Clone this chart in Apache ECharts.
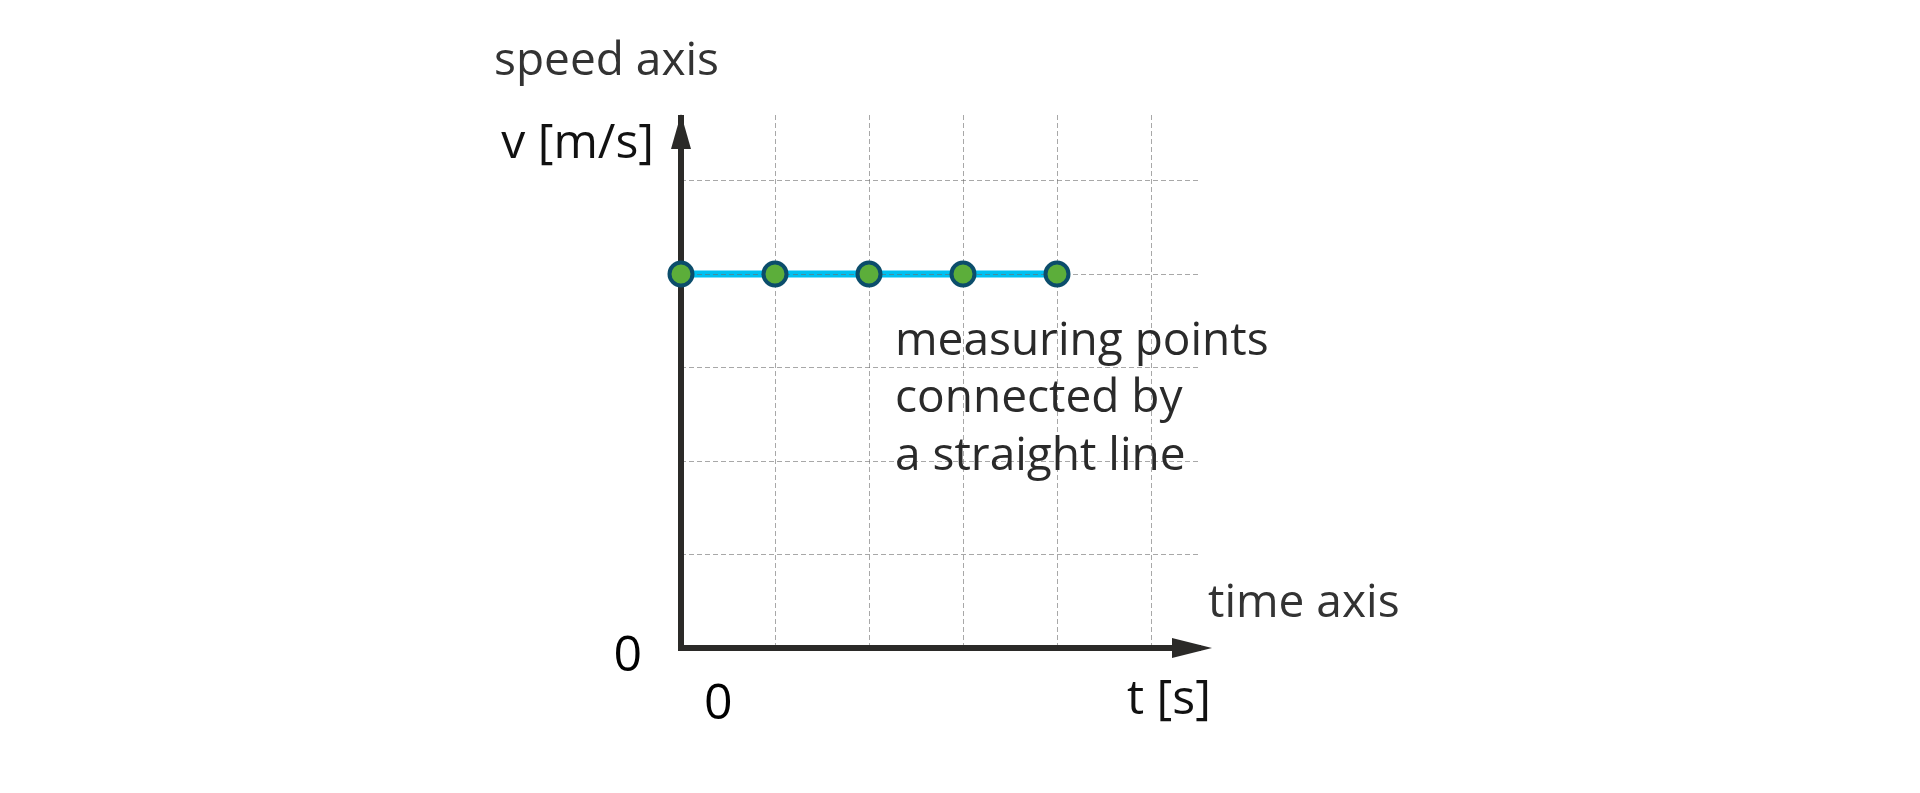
<!DOCTYPE html>
<html>
<head>
<meta charset="utf-8">
<script src="https://cdn.jsdelivr.net/npm/echarts@6/dist/echarts.min.js"></script>
<style>
html,body{margin:0;padding:0;background:#fff;}
#chart{width:1920px;height:793px;}
</style>
</head>
<body>
<div id="chart"></div>
<script>
// Data
const times = [0, 1, 2, 3, 4];
const speeds = [4, 4, 4, 4, 4];
const xTickValues = [0];
const xTickLabels = ['0'];
const yTickValues = [0];
const yTickLabels = ['0'];
const xAxisTitle = 't [s]';
const yAxisTitle = 'v [m/s]';
const xAxisCaption = 'time axis';
const yAxisCaption = 'speed axis';
const annotation = ['measuring points', 'connected by', 'a straight line'];

const FONT = '"Open Sans", "Noto Sans", sans-serif';
const points = times.map((t, i) => [t, speeds[i]]);

function tickFormatter(values, labels) {
  return function (v) {
    const idx = values.indexOf(v);
    return idx >= 0 ? labels[idx] : '';
  };
}

const chart = echarts.init(document.getElementById('chart'), null, {renderer: 'canvas'});
chart.setOption({
  backgroundColor: '#ffffff',
  animation: false,
  grid: {left: 681, right: 722, top: 115, bottom: 145, containLabel: false},
  xAxis: {
    type: 'value', min: 0, max: 5.5, interval: 1,
    axisLine: {
      show: true, onZero: false,
      symbol: ['none', 'triangle'], symbolSize: [20, 40], symbolOffset: [0, -6],
      lineStyle: {color: '#2b2a28', width: 6, cap: 'square'}
    },
    axisTick: {show: false},
    splitLine: {show: true, showMinLine: false, showMaxLine: false,
      lineStyle: {color: 'rgba(110,110,110,0.6)', width: 1, type: [5, 3]}},
    axisLabel: {
      show: true, formatter: tickFormatter(xTickValues, xTickLabels),
      fontFamily: FONT, fontSize: 50, color: '#000',
      align: 'left', padding: [0, 0, 0, 23], margin: 32,
      showMaxLabel: false
    }
  },
  yAxis: {
    type: 'value', min: 0, max: 5.7, interval: 1,
    axisLine: {
      show: true, onZero: false,
      symbol: ['none', 'triangle'], symbolSize: [20, 35], symbolOffset: [0, -16.5],
      lineStyle: {color: '#2b2a28', width: 6, cap: 'butt'}
    },
    axisTick: {show: false},
    splitLine: {show: true, showMinLine: false, showMaxLine: false,
      lineStyle: {color: 'rgba(110,110,110,0.6)', width: 1, type: [5, 3]}},
    axisLabel: {
      show: true, formatter: tickFormatter(yTickValues, yTickLabels),
      fontFamily: FONT, fontSize: 50, color: '#000',
      margin: 39, verticalAlign: 'top', lineHeight: 18,
      showMaxLabel: false
    }
  },
  series: [
    {
      type: 'line', data: points, z: -1,
      showSymbol: false, symbol: 'none',
      lineStyle: {color: '#00c0f0', width: 7}
    },
    {
      type: 'scatter', data: points, z: 5,
      symbol: 'circle', symbolSize: 23,
      itemStyle: {color: '#5cae3a', borderColor: '#0b4d6b', borderWidth: 4, opacity: 1}
    }
  ],
  graphic: [
    {type: 'text', z: 10, style: {x: 494, y: 62, text: yAxisCaption, font: '46px ' + FONT, fill: '#333', textAlign: 'left', textVerticalAlign: 'middle'}},
    {type: 'text', z: 10, style: {x: 654, y: 144, text: yAxisTitle, font: '48px ' + FONT, fill: '#111', textAlign: 'right', textVerticalAlign: 'middle'}},
    {type: 'text', z: 10, style: {x: 1208, y: 604, text: xAxisCaption, font: '46px ' + FONT, fill: '#333', textAlign: 'left', textVerticalAlign: 'middle'}},
    {type: 'text', z: 10, style: {x: 1127, y: 700, text: xAxisTitle, font: '48px ' + FONT, fill: '#111', textAlign: 'left', textVerticalAlign: 'middle'}},
    {type: 'text', z: 10, style: {x: 895, y: 313, text: annotation.join('\n'), font: '46px ' + FONT, lineHeight: 57.5, fill: '#2a2a2a', textAlign: 'left', textVerticalAlign: 'top'}}
  ]
});
</script>
</body>
</html>
